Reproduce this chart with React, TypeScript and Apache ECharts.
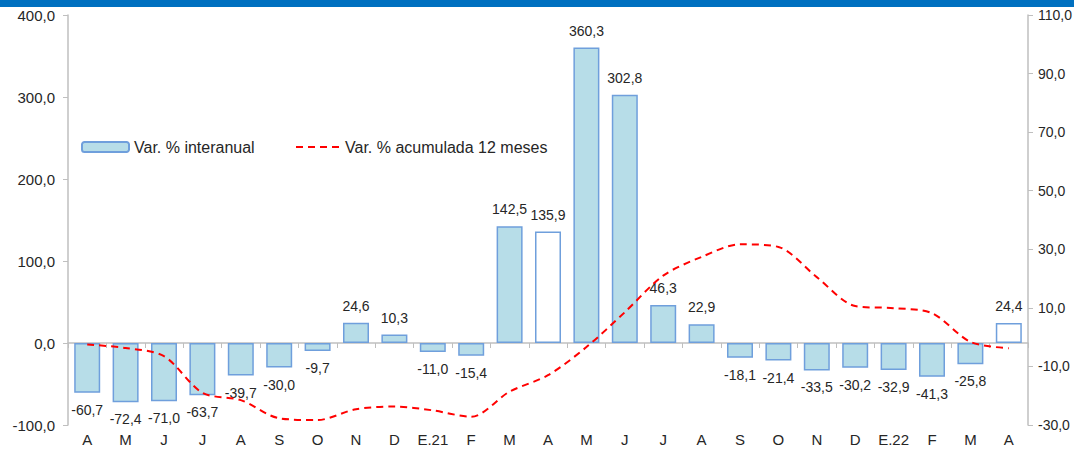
import React, { useEffect, useRef } from "react";
import * as echarts from "echarts";

const categories = ["A", "M", "J", "J", "A", "S", "O", "N", "D", "E.21", "F", "M", "A", "M", "J", "J", "A", "S", "O", "N", "D", "E.22", "F", "M", "A"];
const interanual = [-60.7, -72.4, -71.0, -63.7, -39.7, -30.0, -9.7, 24.6, 10.3, -11.0, -15.4, 142.5, 135.9, 360.3, 302.8, 46.3, 22.9, -18.1, -21.4, -33.5, -30.2, -32.9, -41.3, -25.8, 24.4];
const acumulada = [-2.5, -3.7, -6.5, -19.0, -21.5, -27.7, -28.3, -24.6, -23.7, -25.0, -27.2, -18.6, -13.0, -3.4, 8.5, 21.0, 27.4, 31.7, 30.8, 20.5, 10.6, 9.9, 8.2, -1.6, -3.8];
const hollowBars = [12, 24];
const rightTicks = [-30, -10, 10, 30, 50, 70, 90, 110];

const FONT = "'Liberation Sans', Arial, sans-serif";
const TEXT = "#262626";
const fmt = (v: number) => v.toFixed(1).replace(".", ",");

export default function App() {
  const ref = useRef<HTMLDivElement>(null);
  useEffect(() => {
    if (!ref.current) return;
    const chart = echarts.init(ref.current, undefined, { renderer: "svg" });
    const barData = interanual.map((v, i) => ({
      value: v,
      itemStyle: { color: hollowBars.includes(i) ? "#ffffff" : "#b7dde8" },
      label: { position: v >= 0 ? "top" : "bottom" },
    }));
    chart.setOption({
      animation: false,
      backgroundColor: "#ffffff",
      textStyle: { fontFamily: FONT },
      graphic: [
        { type: "rect", left: 0, top: 0, shape: { width: 1074, height: 7 }, style: { fill: "#0070c0" } },
      ],
      legend: [
        {
          left: 81,
          top: 139,
          padding: 0,
          itemWidth: 47,
          itemHeight: 10,
          textStyle: { fontFamily: FONT, fontSize: 16, color: TEXT },
          data: ["Var. % interanual"],
        },
        {
          left: 295,
          top: 139,
          padding: 0,
          itemWidth: 44,
          itemHeight: 10,
          itemStyle: { opacity: 0 },
          textStyle: { fontFamily: FONT, fontSize: 16, color: TEXT },
          data: ["Var. % acumulada 12 meses"],
        },
      ],
      grid: { left: 68, right: 46, top: 15, bottom: 24, outerBoundsMode: "none", containLabel: false },
      xAxis: [
        {
          type: "category",
          data: categories,
          position: "bottom",
          axisLine: { onZero: true, lineStyle: { color: "#bfbfbf", width: 1.5 } },
          axisTick: { show: true, length: 5, lineStyle: { color: "#bfbfbf" } },
          axisLabel: { show: false },
        },
        {
          type: "category",
          data: categories,
          position: "bottom",
          axisLine: { show: false, onZero: false },
          axisTick: { show: false },
          axisLabel: { interval: 0, margin: 6, fontSize: 15, lineHeight: 16, color: TEXT, fontFamily: FONT },
        },
      ],
      yAxis: [
        {
          type: "value",
          min: -100,
          max: 400,
          interval: 100,
          position: "left",
          splitLine: { show: false },
          axisLine: { show: true, lineStyle: { color: "#bfbfbf", width: 1.5 } },
          axisTick: { show: true, length: 5, lineStyle: { color: "#bfbfbf" } },
          axisLabel: { formatter: (v: number) => fmt(v), fontSize: 15, color: TEXT, margin: 13, fontFamily: FONT },
        },
        {
          type: "value",
          min: -30,
          max: 110,
          position: "right",
          splitLine: { show: false },
          axisLine: { show: true, lineStyle: { color: "#bfbfbf", width: 1.5 } },
          axisTick: { show: true, length: 5, lineStyle: { color: "#bfbfbf" }, customValues: rightTicks },
          axisLabel: { formatter: (v: number) => fmt(v), fontSize: 14, color: TEXT, margin: 10, fontFamily: FONT, customValues: rightTicks },
        },
      ],
      series: [
        {
          name: "Var. % interanual",
          type: "bar",
          xAxisIndex: 0,
          yAxisIndex: 0,
          barWidth: 26,
          data: barData,
          itemStyle: { color: "#b7dde8", borderColor: "#6f9fdc", borderWidth: 1.5 },
          label: {
            show: true,
            distance: 10,
            formatter: (p: any) => fmt(p.value),
            fontSize: 14,
            color: TEXT,
            fontFamily: FONT,
          },
        },
        {
          name: "Var. % acumulada 12 meses",
          type: "line",
          xAxisIndex: 0,
          yAxisIndex: 1,
          data: acumulada,
          smooth: 0.3,
          symbol: "none",
          lineStyle: { color: "#ff0000", width: 2, type: [7, 5] },
          itemStyle: { color: "#ff0000" },
          z: 3,
        },
      ],
    });
    return () => chart.dispose();
  }, []);
  return <div ref={ref} style={{ position: "fixed", left: 0, top: 0, width: 1074, height: 449 }} />;
}
